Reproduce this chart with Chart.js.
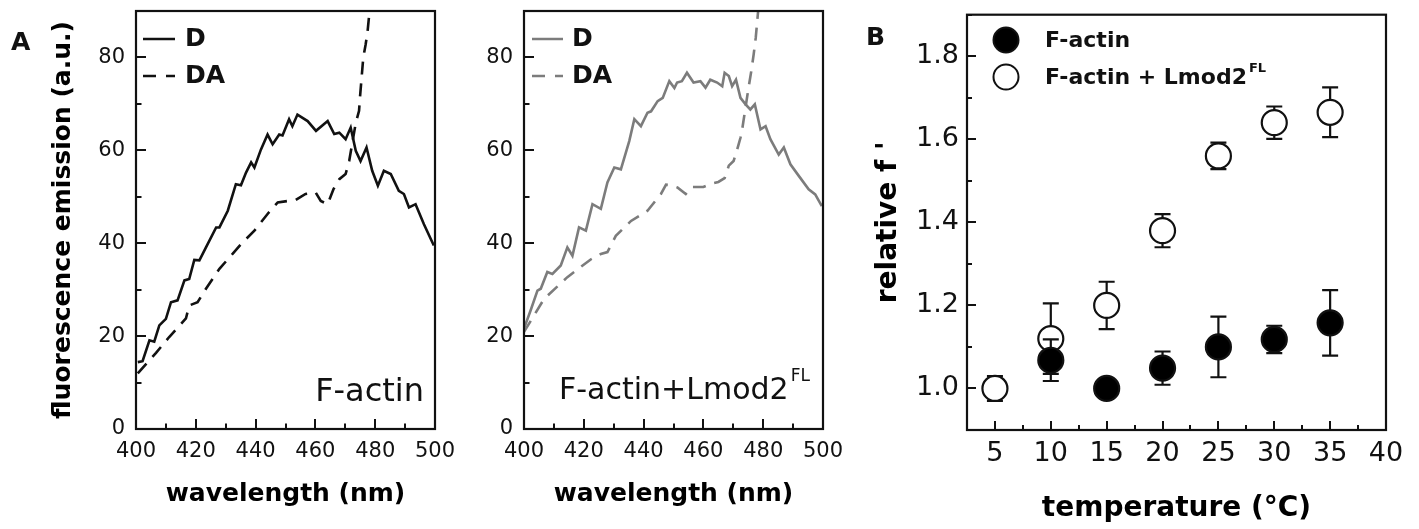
<!DOCTYPE html>
<html>
<head>
<meta charset="utf-8">
<script src="https://cdn.jsdelivr.net/npm/chart.js@4/dist/chart.umd.min.js"></script>
<style>
html,body{margin:0;padding:0;background:#fff;width:1419px;height:529px;overflow:hidden;position:relative;}
canvas{position:absolute;top:0;}
#c1{left:0;} #c2{left:450px;} #c3{left:850px;}
</style>
</head>
<body>
<canvas id="c1" width="470" height="529"></canvas>
<canvas id="c2" width="400" height="529"></canvas>
<canvas id="c3" width="569" height="529"></canvas>
<script>
const FONT = "'DejaVu Sans', 'Liberation Sans', sans-serif";

// ---------- Panel A, F-actin ----------
const faD_nm  = [400.6,402.2,404.5,406.1,407.8,410,411.7,413.9,416.2,417.8,419.5,421.2,423.4,426.8,427.9,430.7,433.4,435.1,436.8,438.5,439.6,441.8,444,445.7,447.9,449,451.2,452.3,454,457.4,460.2,464.1,466.3,468,470.1,471.8,473.5,475.1,477.1,479,480.9,482.9,485.2,487.9,489.6,491.3,493.5,496.3,499.6];
const faD_val = [14.4,14.6,19.1,18.8,22.3,23.7,27.3,27.7,32,32.3,36.4,36.3,39.1,43.4,43.4,47,52.7,52.5,55.2,57.4,56.3,60.2,63.4,61.3,63.4,63.2,66.7,65.2,67.7,66.3,64.2,66.3,63.5,63.8,62.4,64.9,59.9,57.7,60.6,55.6,52.4,55.6,54.9,51.3,50.6,47.7,48.4,44.1,39.5];
const faDA_nm  = [400.6,406.7,411.1,416.7,417.8,420.6,423.4,427.9,432.3,435.7,439.6,444,447.4,450.8,453.4,456.7,460.1,461.8,464.1,466.1,468,470.1,471.3,473.5,474.6,474.9,476,476.8,477.4,478,478.5];
const faDA_val = [12,16.4,19.8,23.8,26.6,27.3,30.2,34.5,37.7,40.2,42.7,46.3,48.8,49.1,49.3,50.6,50.9,49.1,48.4,51.7,53.8,54.9,57.7,65.9,68.5,71.3,79.9,82.8,85.3,89.2,92];

// ---------- Panel A, F-actin + Lmod2FL ----------
const lmD_nm  = [400,402.2,404.5,405.6,407.8,409.5,412.3,414.5,416.2,418.4,420.7,422.9,425.7,427.9,430.2,432.4,435.2,436.9,439.1,441.3,442.5,444.7,446.4,448.6,450.3,451.2,452.8,454.5,456.7,459,460.7,462.3,464.6,466.3,467.1,468.5,469.6,470.9,472.4,474.1,475.7,477.2,479.1,480.8,482.4,485.2,486.9,489.1,491.9,495.2,497.4,499.6];
const lmD_val = [21.6,25.5,29.8,30.2,33.8,33.4,35.2,39.1,37.3,43.4,42.7,48.4,47.4,53.1,56.3,55.9,62,66.7,65.2,68.1,68.4,70.6,71.3,74.9,73.4,74.6,74.9,76.7,74.6,74.9,73.5,75.2,74.6,73.8,76.7,76,73.8,75.2,71.3,69.9,68.8,69.9,64.5,65.2,62.4,59.1,60.6,57,54.5,51.6,50.5,48];
const lmDA_nm  = [400,406.7,414.5,422.3,425.7,427.9,430.7,435.8,441.3,445.8,447.5,449.2,451.3,454.1,456.1,458.3,460,462.4,465,467.1,468.5,470.1,471.3,472.4,472.9,475.1,476,476.8,477.5,478.2,478.6];
const lmDA_val = [20.9,28,32.7,36.5,37.7,38.1,41.6,44.8,47,50.6,52.6,52.5,52,50.6,52.1,52.1,52.1,52.8,53.2,54,56.7,57.7,60.2,62.7,64.2,73.5,77,80.6,84.2,89.2,92];

const specXTickLabels = [400,420,440,460,480,500];
const specYTickLabels = [0,20,40,60,80];

// ---------- Panel B ----------
const tempOpen   = [5,10,15,20,25,30,35];
const relOpen    = [1.00,1.12,1.20,1.38,1.56,1.64,1.665];
const errOpen    = [0.03,0.085,0.057,0.04,0.032,0.039,0.06];
const tempFilled = [10,15,20,25,30,35];
const relFilled  = [1.068,1.00,1.049,1.10,1.118,1.158];
const errFilled  = [0.05,0,0.04,0.073,0.033,0.079];
const tempTickLabels = [5,10,15,20,25,30,35,40];
const relTickLabels  = [1.0,1.2,1.4,1.6,1.8];

const BLACK = '#111111';
const GRAY  = '#7c7c7c';

function pts(xs, ys){ return xs.map((x,i)=>({x:x, y:ys[i]})); }

// frame + inward ticks
const boxTicks = {
  id:'boxTicks',
  afterDatasetsDraw(chart, args, o){
    const ctx = chart.ctx, a = chart.chartArea, xs = chart.scales.x, ys = chart.scales.y;
    ctx.save();
    ctx.strokeStyle = BLACK;
    ctx.lineWidth = 2;
    ctx.beginPath();
    xs.ticks.forEach(t=>{
      const p = Math.round(xs.getPixelForValue(t.value));
      const L = t.label !== '' ? o.major : o.minor;
      ctx.moveTo(p, a.bottom); ctx.lineTo(p, a.bottom - L);
    });
    ys.ticks.forEach(t=>{
      const p = Math.round(ys.getPixelForValue(t.value));
      const L = t.label !== '' ? o.major : o.minor;
      ctx.moveTo(a.left, p); ctx.lineTo(a.left + L, p);
    });
    ctx.stroke();
    ctx.lineWidth = 2.2;
    ctx.strokeRect(a.left, a.top, a.right - a.left, a.bottom - a.top);
    ctx.restore();
  }
};

// free texts / legend glyphs
const texts = {
  id:'texts',
  afterDraw(chart, args, o){
    const ctx = chart.ctx;
    (o.items || []).forEach(it=>{
      ctx.save();
      if (it.type === 'line'){
        ctx.strokeStyle = it.color; ctx.lineWidth = it.width || 2.5;
        ctx.setLineDash(it.dash || []);
        ctx.beginPath(); ctx.moveTo(it.x1, it.y); ctx.lineTo(it.x2, it.y); ctx.stroke();
      } else if (it.type === 'circle'){
        ctx.beginPath(); ctx.arc(it.x, it.y, it.r, 0, Math.PI*2);
        ctx.fillStyle = it.fill; ctx.fill();
        ctx.lineWidth = 2; ctx.strokeStyle = BLACK; ctx.stroke();
      } else {
        ctx.font = it.font; ctx.fillStyle = it.color || BLACK;
        ctx.textAlign = it.align || 'left'; ctx.textBaseline = 'alphabetic';
        ctx.fillText(it.text, it.x, it.y);
        if (it.sup){
          const w = ctx.measureText(it.text).width;
          const right = (it.align === 'right') ? it.x : it.x + w;
          ctx.font = it.supFont; ctx.textAlign = 'left';
          ctx.fillText(it.sup, right + 2, it.y + it.supDy);
        }
      }
      ctx.restore();
    });
  }
};

// error bars drawn just before each dataset's markers
const errorBars = {
  id:'errorBars',
  beforeDatasetDraw(chart, args, o){
    const ds = chart.data.datasets[args.index];
    if (!ds.errors) return;
    const ctx = chart.ctx, xs = chart.scales.x, ys = chart.scales.y;
    ctx.save();
    ctx.strokeStyle = BLACK; ctx.lineWidth = 2.2;
    ds.data.forEach((p,i)=>{
      const e = ds.errors[i]; if (!e) return;
      const px = xs.getPixelForValue(p.x);
      const t = ys.getPixelForValue(p.y + e), b = ys.getPixelForValue(p.y - e);
      ctx.beginPath();
      ctx.moveTo(px, t); ctx.lineTo(px, b);
      ctx.moveTo(px - o.cap, t); ctx.lineTo(px + o.cap, t);
      ctx.moveTo(px - o.cap, b); ctx.lineTo(px + o.cap, b);
      ctx.stroke();
    });
    ctx.restore();
  }
};

function fixX(h){ return s=>{ s.height = h; s.paddingLeft = 0; s.paddingRight = 0; }; }
function fixY(w){ return s=>{ s.width = w; s.paddingTop = 0; s.paddingBottom = 0; }; }

function spectrum(id, dD, dDA, color, yWidth, rightPad, yTitle, items){
  return new Chart(document.getElementById(id), {
    type:'scatter',
    data:{datasets:[
      {data:dD, showLine:true, borderColor:color, borderWidth:2.6, pointRadius:0, tension:0},
      {data:dDA, showLine:true, borderColor:color, borderWidth:2.6, borderDash:[13,9], pointRadius:0, tension:0}
    ]},
    options:{
      responsive:false, animation:false, events:[],
      layout:{padding:{top:11, right:rightPad, left:0, bottom:0}},
      plugins:{legend:{display:false}, tooltip:{enabled:false},
        boxTicks:{major:10, minor:5.5}, texts:{items:items}},
      scales:{
        x:{type:'linear', min:400, max:500, afterFit:fixX(100),
          grid:{display:false, drawTicks:false}, border:{display:false},
          ticks:{stepSize:10, autoSkip:false, maxRotation:0, padding:10, color:BLACK,
            font:{family:FONT, size:21},
            callback:v=>specXTickLabels.includes(v) ? String(v) : ''},
          title:{display:true, text:'wavelength (nm)', color:'#000',
            font:{family:FONT, size:25, weight:'bold'}, padding:{top:0, bottom:20}}},
        y:{type:'linear', min:0, max:90, afterFit:fixY(yWidth),
          grid:{display:false, drawTicks:false}, border:{display:false},
          ticks:{stepSize:10, autoSkip:false, padding:11, color:BLACK,
            font:{family:FONT, size:21},
            callback:v=>specYTickLabels.includes(v) ? String(v) : ''},
          title:{display:!!yTitle, text:yTitle || '', color:'#000',
            font:{family:FONT, size:25, weight:'bold'}, padding:{top:48, bottom:0}}}
      }
    },
    plugins:[boxTicks, texts]
  });
}

spectrum('c1', pts(faD_nm, faD_val), pts(faDA_nm, faDA_val), BLACK, 136, 35,
  'fluorescence emission (a.u.)', [
    {text:'A', x:11, y:50, font:"bold 25px "+FONT},
    {type:'line', x1:143, x2:175, y:39, color:BLACK},
    {type:'line', x1:143, x2:175, y:76, color:BLACK, dash:[13,10]},
    {text:'D', x:185, y:46, font:"bold 25px "+FONT},
    {text:'DA', x:185, y:83, font:"bold 25px "+FONT},
    {text:'F-actin', x:424, y:401, align:'right', font:"32px "+FONT}
  ]);

spectrum('c2', pts(lmD_nm, lmD_val), pts(lmDA_nm, lmDA_val), GRAY, 74, 27,
  null, [
    {type:'line', x1:82, x2:113, y:39, color:GRAY},
    {type:'line', x1:82, x2:113, y:76, color:GRAY, dash:[13,10]},
    {text:'D', x:122, y:46, font:"bold 25px "+FONT},
    {text:'DA', x:122, y:83, font:"bold 25px "+FONT},
    {text:'F-actin+Lmod2', x:109, y:399, font:"30px "+FONT, sup:'FL', supFont:"17px "+FONT, supDy:-18}
  ]);

new Chart(document.getElementById('c3'), {
  type:'scatter',
  data:{datasets:[
    {data:pts(tempOpen, relOpen), errors:errOpen, order:2, pointRadius:12.5, pointBorderWidth:2.2,
      backgroundColor:'#ffffff', borderColor:BLACK, pointHoverRadius:12.5},
    {data:pts(tempFilled, relFilled), errors:errFilled, order:1, pointRadius:12.5, pointBorderWidth:2.2,
      backgroundColor:'#000000', borderColor:BLACK, pointHoverRadius:12.5}
  ]},
  options:{
    responsive:false, animation:false, events:[],
    layout:{padding:{top:11, right:33, left:0, bottom:0}},
    plugins:{legend:{display:false}, tooltip:{enabled:false},
      errorBars:{cap:8},
      boxTicks:{major:9, minor:5},
      texts:{items:[
        {text:'B', x:16, y:45, font:"bold 25px "+FONT},
        {type:'circle', x:156, y:40, r:12.5, fill:'#000'},
        {type:'circle', x:156, y:77, r:12.5, fill:'#fff'},
        {text:'F-actin', x:195, y:47, font:"bold 22px "+FONT},
        {text:'F-actin + Lmod2', x:195, y:84, font:"bold 22px "+FONT, sup:'FL', supFont:"bold 13px "+FONT, supDy:-12}
      ]}},
    scales:{
      x:{type:'linear', min:2.5, max:40, afterFit:fixX(99),
        grid:{display:false, drawTicks:false}, border:{display:false},
        ticks:{stepSize:2.5, autoSkip:false, maxRotation:0, padding:8, color:BLACK,
          font:{family:FONT, size:27},
          callback:v=>tempTickLabels.includes(v) ? String(v) : ''},
        title:{display:true, text:'temperature (°C)', color:'#000',
          font:{family:FONT, size:28, weight:'bold'}, padding:{top:0, bottom:3}}},
      y:{type:'linear', min:0.9, max:1.9, afterFit:fixY(117),
        grid:{display:false, drawTicks:false}, border:{display:false},
        ticks:{stepSize:0.1, autoSkip:false, padding:8, color:BLACK,
          font:{family:FONT, size:27},
          callback:v=>{ const r = Math.round(v*10)/10; return relTickLabels.includes(r) ? r.toFixed(1) : ''; }},
        title:{display:true, text:"relative f '", color:'#000',
          font:{family:FONT, size:28, weight:'bold'}, padding:{top:22, bottom:0}}}
    }
  },
  plugins:[errorBars, boxTicks, texts]
});
</script>
</body>
</html>
